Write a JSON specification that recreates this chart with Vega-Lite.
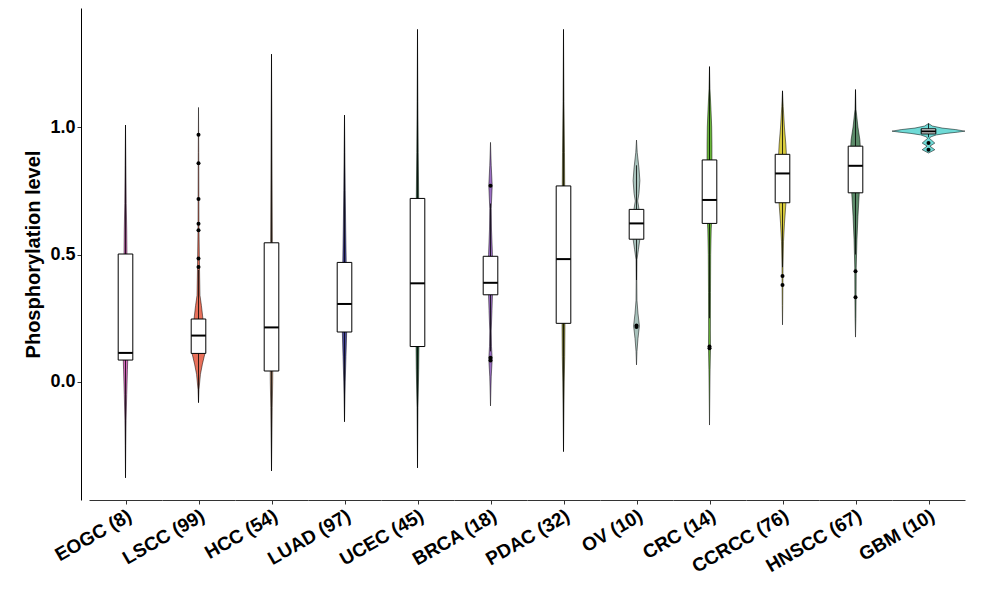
{
  "$schema": "https://vega.github.io/schema/vega-lite/v6.json",
  "background": "white",
  "padding": {"left": 23, "top": 8, "right": 5, "bottom": 5},
  "spacing": 0,
  "bounds": "flush",
  "config": {
    "view": {"stroke": null},
    "font": "Liberation Sans"
  },
  "data": {
    "values": [
      {"g": "EOGC (8)", "y": 1.008, "l": 0, "r": 0},
      {"g": "EOGC (8)", "y": 0.85, "l": -0.011, "r": 0.011},
      {"g": "EOGC (8)", "y": 0.70, "l": -0.02, "r": 0.02},
      {"g": "EOGC (8)", "y": 0.60, "l": -0.033, "r": 0.033},
      {"g": "EOGC (8)", "y": 0.50, "l": -0.04, "r": 0.04},
      {"g": "EOGC (8)", "y": 0.30, "l": -0.053, "r": 0.053},
      {"g": "EOGC (8)", "y": 0.11, "l": -0.067, "r": 0.067},
      {"g": "EOGC (8)", "y": 0.05, "l": -0.053, "r": 0.053},
      {"g": "EOGC (8)", "y": -0.05, "l": -0.033, "r": 0.033},
      {"g": "EOGC (8)", "y": -0.15, "l": -0.016, "r": 0.016},
      {"g": "EOGC (8)", "y": -0.25, "l": -0.008, "r": 0.008},
      {"g": "EOGC (8)", "y": -0.376, "l": 0, "r": 0},

      {"g": "LSCC (99)", "y": 1.077, "l": 0, "r": 0},
      {"g": "LSCC (99)", "y": 0.9, "l": -0.007, "r": 0.007},
      {"g": "LSCC (99)", "y": 0.6, "l": -0.013, "r": 0.013},
      {"g": "LSCC (99)", "y": 0.45, "l": -0.027, "r": 0.027},
      {"g": "LSCC (99)", "y": 0.34, "l": -0.04, "r": 0.04},
      {"g": "LSCC (99)", "y": 0.30, "l": -0.08, "r": 0.08},
      {"g": "LSCC (99)", "y": 0.25, "l": -0.12, "r": 0.12},
      {"g": "LSCC (99)", "y": 0.18, "l": -0.173, "r": 0.173},
      {"g": "LSCC (99)", "y": 0.11, "l": -0.173, "r": 0.173},
      {"g": "LSCC (99)", "y": 0.07, "l": -0.107, "r": 0.107},
      {"g": "LSCC (99)", "y": 0.03, "l": -0.053, "r": 0.053},
      {"g": "LSCC (99)", "y": -0.03, "l": -0.013, "r": 0.013},
      {"g": "LSCC (99)", "y": -0.081, "l": 0, "r": 0},

      {"g": "HCC (54)", "y": 1.286, "l": 0, "r": 0},
      {"g": "HCC (54)", "y": 1.0, "l": -0.011, "r": 0.011},
      {"g": "HCC (54)", "y": 0.8, "l": -0.016, "r": 0.016},
      {"g": "HCC (54)", "y": 0.55, "l": -0.024, "r": 0.024},
      {"g": "HCC (54)", "y": 0.3, "l": -0.033, "r": 0.033},
      {"g": "HCC (54)", "y": 0.1, "l": -0.037, "r": 0.037},
      {"g": "HCC (54)", "y": 0.0, "l": -0.033, "r": 0.033},
      {"g": "HCC (54)", "y": -0.1, "l": -0.02, "r": 0.02},
      {"g": "HCC (54)", "y": -0.2, "l": -0.013, "r": 0.013},
      {"g": "HCC (54)", "y": -0.349, "l": 0, "r": 0},

      {"g": "LUAD (97)", "y": 1.047, "l": 0, "r": 0},
      {"g": "LUAD (97)", "y": 0.9, "l": -0.011, "r": 0.011},
      {"g": "LUAD (97)", "y": 0.75, "l": -0.02, "r": 0.02},
      {"g": "LUAD (97)", "y": 0.6, "l": -0.033, "r": 0.033},
      {"g": "LUAD (97)", "y": 0.47, "l": -0.047, "r": 0.047},
      {"g": "LUAD (97)", "y": 0.3, "l": -0.06, "r": 0.06},
      {"g": "LUAD (97)", "y": 0.2, "l": -0.06, "r": 0.06},
      {"g": "LUAD (97)", "y": 0.1, "l": -0.04, "r": 0.04},
      {"g": "LUAD (97)", "y": 0.0, "l": -0.02, "r": 0.02},
      {"g": "LUAD (97)", "y": -0.156, "l": 0, "r": 0},

      {"g": "UCEC (45)", "y": 1.383, "l": 0, "r": 0},
      {"g": "UCEC (45)", "y": 1.1, "l": -0.011, "r": 0.011},
      {"g": "UCEC (45)", "y": 0.9, "l": -0.02, "r": 0.02},
      {"g": "UCEC (45)", "y": 0.72, "l": -0.033, "r": 0.033},
      {"g": "UCEC (45)", "y": 0.4, "l": -0.04, "r": 0.04},
      {"g": "UCEC (45)", "y": 0.14, "l": -0.04, "r": 0.04},
      {"g": "UCEC (45)", "y": 0.05, "l": -0.033, "r": 0.033},
      {"g": "UCEC (45)", "y": -0.1, "l": -0.013, "r": 0.013},
      {"g": "UCEC (45)", "y": -0.337, "l": 0, "r": 0},

      {"g": "BRCA (18)", "y": 0.94, "l": 0, "r": 0},
      {"g": "BRCA (18)", "y": 0.85, "l": -0.02, "r": 0.02},
      {"g": "BRCA (18)", "y": 0.77, "l": -0.047, "r": 0.047},
      {"g": "BRCA (18)", "y": 0.68, "l": -0.02, "r": 0.02},
      {"g": "BRCA (18)", "y": 0.6, "l": -0.027, "r": 0.027},
      {"g": "BRCA (18)", "y": 0.5, "l": -0.053, "r": 0.053},
      {"g": "BRCA (18)", "y": 0.4, "l": -0.067, "r": 0.067},
      {"g": "BRCA (18)", "y": 0.34, "l": -0.053, "r": 0.053},
      {"g": "BRCA (18)", "y": 0.28, "l": -0.04, "r": 0.04},
      {"g": "BRCA (18)", "y": 0.2, "l": -0.02, "r": 0.02},
      {"g": "BRCA (18)", "y": 0.14, "l": -0.027, "r": 0.027},
      {"g": "BRCA (18)", "y": 0.09, "l": -0.047, "r": 0.047},
      {"g": "BRCA (18)", "y": 0.02, "l": -0.02, "r": 0.02},
      {"g": "BRCA (18)", "y": -0.094, "l": 0, "r": 0},

      {"g": "PDAC (32)", "y": 1.383, "l": 0, "r": 0},
      {"g": "PDAC (32)", "y": 1.1, "l": -0.013, "r": 0.013},
      {"g": "PDAC (32)", "y": 0.9, "l": -0.027, "r": 0.027},
      {"g": "PDAC (32)", "y": 0.77, "l": -0.033, "r": 0.033},
      {"g": "PDAC (32)", "y": 0.5, "l": -0.04, "r": 0.04},
      {"g": "PDAC (32)", "y": 0.23, "l": -0.04, "r": 0.04},
      {"g": "PDAC (32)", "y": 0.1, "l": -0.033, "r": 0.033},
      {"g": "PDAC (32)", "y": 0.0, "l": -0.02, "r": 0.02},
      {"g": "PDAC (32)", "y": -0.273, "l": 0, "r": 0},

      {"g": "OV (10)", "y": 0.949, "l": 0, "r": 0},
      {"g": "OV (10)", "y": 0.90, "l": -0.02, "r": 0.02},
      {"g": "OV (10)", "y": 0.84, "l": -0.067, "r": 0.067},
      {"g": "OV (10)", "y": 0.79, "l": -0.093, "r": 0.093},
      {"g": "OV (10)", "y": 0.74, "l": -0.067, "r": 0.067},
      {"g": "OV (10)", "y": 0.71, "l": -0.033, "r": 0.033},
      {"g": "OV (10)", "y": 0.68, "l": -0.067, "r": 0.067},
      {"g": "OV (10)", "y": 0.62, "l": -0.107, "r": 0.107},
      {"g": "OV (10)", "y": 0.56, "l": -0.093, "r": 0.093},
      {"g": "OV (10)", "y": 0.52, "l": -0.053, "r": 0.053},
      {"g": "OV (10)", "y": 0.48, "l": -0.013, "r": 0.013},
      {"g": "OV (10)", "y": 0.40, "l": -0.008, "r": 0.008},
      {"g": "OV (10)", "y": 0.32, "l": -0.013, "r": 0.013},
      {"g": "OV (10)", "y": 0.27, "l": -0.04, "r": 0.04},
      {"g": "OV (10)", "y": 0.22, "l": -0.08, "r": 0.08},
      {"g": "OV (10)", "y": 0.17, "l": -0.04, "r": 0.04},
      {"g": "OV (10)", "y": 0.12, "l": -0.013, "r": 0.013},
      {"g": "OV (10)", "y": 0.067, "l": 0, "r": 0},

      {"g": "CRC (14)", "y": 1.237, "l": 0, "r": 0},
      {"g": "CRC (14)", "y": 1.15, "l": -0.013, "r": 0.013},
      {"g": "CRC (14)", "y": 1.07, "l": -0.04, "r": 0.04},
      {"g": "CRC (14)", "y": 1.0, "l": -0.06, "r": 0.06},
      {"g": "CRC (14)", "y": 0.93, "l": -0.067, "r": 0.067},
      {"g": "CRC (14)", "y": 0.87, "l": -0.067, "r": 0.067},
      {"g": "CRC (14)", "y": 0.75, "l": -0.08, "r": 0.08},
      {"g": "CRC (14)", "y": 0.65, "l": -0.067, "r": 0.067},
      {"g": "CRC (14)", "y": 0.6, "l": -0.047, "r": 0.047},
      {"g": "CRC (14)", "y": 0.5, "l": -0.033, "r": 0.033},
      {"g": "CRC (14)", "y": 0.35, "l": -0.027, "r": 0.027},
      {"g": "CRC (14)", "y": 0.2, "l": -0.024, "r": 0.024},
      {"g": "CRC (14)", "y": 0.13, "l": -0.027, "r": 0.027},
      {"g": "CRC (14)", "y": 0.05, "l": -0.016, "r": 0.016},
      {"g": "CRC (14)", "y": -0.169, "l": 0, "r": 0},

      {"g": "CCRCC (76)", "y": 1.142, "l": 0, "r": 0},
      {"g": "CCRCC (76)", "y": 1.08, "l": -0.02, "r": 0.02},
      {"g": "CCRCC (76)", "y": 1.0, "l": -0.053, "r": 0.053},
      {"g": "CCRCC (76)", "y": 0.93, "l": -0.093, "r": 0.093},
      {"g": "CCRCC (76)", "y": 0.89, "l": -0.107, "r": 0.107},
      {"g": "CCRCC (76)", "y": 0.82, "l": -0.12, "r": 0.12},
      {"g": "CCRCC (76)", "y": 0.70, "l": -0.093, "r": 0.093},
      {"g": "CCRCC (76)", "y": 0.62, "l": -0.053, "r": 0.053},
      {"g": "CCRCC (76)", "y": 0.55, "l": -0.027, "r": 0.027},
      {"g": "CCRCC (76)", "y": 0.45, "l": -0.013, "r": 0.013},
      {"g": "CCRCC (76)", "y": 0.38, "l": -0.011, "r": 0.011},
      {"g": "CCRCC (76)", "y": 0.3, "l": -0.007, "r": 0.007},
      {"g": "CCRCC (76)", "y": 0.224, "l": 0, "r": 0},

      {"g": "HNSCC (67)", "y": 1.147, "l": 0, "r": 0},
      {"g": "HNSCC (67)", "y": 1.07, "l": -0.013, "r": 0.013},
      {"g": "HNSCC (67)", "y": 1.0, "l": -0.067, "r": 0.067},
      {"g": "HNSCC (67)", "y": 0.95, "l": -0.12, "r": 0.12},
      {"g": "HNSCC (67)", "y": 0.92, "l": -0.133, "r": 0.133},
      {"g": "HNSCC (67)", "y": 0.85, "l": -0.133, "r": 0.133},
      {"g": "HNSCC (67)", "y": 0.75, "l": -0.107, "r": 0.107},
      {"g": "HNSCC (67)", "y": 0.65, "l": -0.067, "r": 0.067},
      {"g": "HNSCC (67)", "y": 0.56, "l": -0.04, "r": 0.04},
      {"g": "HNSCC (67)", "y": 0.45, "l": -0.02, "r": 0.02},
      {"g": "HNSCC (67)", "y": 0.33, "l": -0.016, "r": 0.016},
      {"g": "HNSCC (67)", "y": 0.25, "l": -0.011, "r": 0.011},
      {"g": "HNSCC (67)", "y": 0.176, "l": 0, "r": 0},

      {"g": "GBM (10)", "y": 1.014, "l": 0, "r": 0},
      {"g": "GBM (10)", "y": 1.004, "l": -0.107, "r": 0.107},
      {"g": "GBM (10)", "y": 0.996, "l": -0.373, "r": 0.373},
      {"g": "GBM (10)", "y": 0.990, "l": -0.747, "r": 0.747},
      {"g": "GBM (10)", "y": 0.984, "l": -1.0, "r": 1.0},
      {"g": "GBM (10)", "y": 0.980, "l": -0.8, "r": 0.8},
      {"g": "GBM (10)", "y": 0.975, "l": -0.48, "r": 0.48},
      {"g": "GBM (10)", "y": 0.969, "l": -0.213, "r": 0.213},
      {"g": "GBM (10)", "y": 0.961, "l": -0.053, "r": 0.053},
      {"g": "GBM (10)", "y": 0.955, "l": -0.027, "r": 0.027},
      {"g": "GBM (10)", "y": 0.949, "l": -0.08, "r": 0.08},
      {"g": "GBM (10)", "y": 0.937, "l": -0.173, "r": 0.173},
      {"g": "GBM (10)", "y": 0.925, "l": -0.04, "r": 0.04},
      {"g": "GBM (10)", "y": 0.911, "l": -0.173, "r": 0.173},
      {"g": "GBM (10)", "y": 0.898, "l": 0, "r": 0},

      {"g": "EOGC (8)", "q1": 0.086, "med": 0.114, "q3": 0.502, "lo": -0.376, "hi": 1.008},
      {"g": "LSCC (99)", "q1": 0.112, "med": 0.182, "q3": 0.247, "lo": -0.081, "hi": 0.44},
      {"g": "HCC (54)", "q1": 0.043, "med": 0.214, "q3": 0.546, "lo": -0.349, "hi": 1.286},
      {"g": "LUAD (97)", "q1": 0.196, "med": 0.306, "q3": 0.469, "lo": -0.156, "hi": 1.047},
      {"g": "UCEC (45)", "q1": 0.139, "med": 0.387, "q3": 0.720, "lo": -0.337, "hi": 1.383},
      {"g": "BRCA (18)", "q1": 0.342, "med": 0.389, "q3": 0.493, "lo": 0.12, "hi": 0.70},
      {"g": "PDAC (32)", "q1": 0.230, "med": 0.482, "q3": 0.769, "lo": -0.273, "hi": 1.383},
      {"g": "OV (10)", "q1": 0.560, "med": 0.622, "q3": 0.677, "lo": 0.40, "hi": 0.85},
      {"g": "CRC (14)", "q1": 0.622, "med": 0.714, "q3": 0.871, "lo": 0.25, "hi": 1.237},
      {"g": "CCRCC (76)", "q1": 0.703, "med": 0.818, "q3": 0.893, "lo": 0.45, "hi": 1.142},
      {"g": "HNSCC (67)", "q1": 0.742, "med": 0.848, "q3": 0.925, "lo": 0.50, "hi": 1.147},
      {"g": "GBM (10)", "q1": 0.973, "med": 0.983, "q3": 0.993, "lo": 0.96, "hi": 1.014},

      {"g": "LSCC (99)", "o": 0.970},
      {"g": "LSCC (99)", "o": 0.858},
      {"g": "LSCC (99)", "o": 0.718},
      {"g": "LSCC (99)", "o": 0.621},
      {"g": "LSCC (99)", "o": 0.595},
      {"g": "LSCC (99)", "o": 0.484},
      {"g": "LSCC (99)", "o": 0.451},
      {"g": "BRCA (18)", "o": 0.770},
      {"g": "BRCA (18)", "o": 0.095},
      {"g": "BRCA (18)", "o": 0.084},
      {"g": "OV (10)", "o": 0.222},
      {"g": "OV (10)", "o": 0.216},
      {"g": "CRC (14)", "o": 0.139},
      {"g": "CRC (14)", "o": 0.132},
      {"g": "CCRCC (76)", "o": 0.416},
      {"g": "CCRCC (76)", "o": 0.380},
      {"g": "HNSCC (67)", "o": 0.434},
      {"g": "HNSCC (67)", "o": 0.332},
      {"g": "GBM (10)", "o": 0.937},
      {"g": "GBM (10)", "o": 0.911}
    ]
  },
  "facet": {
    "column": {
      "field": "g",
      "type": "nominal",
      "title": null,
      "sort": ["EOGC (8)", "LSCC (99)", "HCC (54)", "LUAD (97)", "UCEC (45)", "BRCA (18)", "PDAC (32)", "OV (10)", "CRC (14)", "CCRCC (76)", "HNSCC (67)", "GBM (10)"],
      "header": {
        "labelOrient": "bottom",
        "labelAngle": -30,
        "labelAlign": "right",
        "labelBaseline": "top",
        "labelFont": "Liberation Sans",
        "labelFontSize": 19,
        "labelFontWeight": "bold",
        "labelColor": "black",
        "labelPadding": 2
      }
    }
  },
  "spec": {
    "width": 73,
    "height": 492,
    "layer": [
      {
        "transform": [{"filter": "isValid(datum.l)"}],
        "mark": {"type": "area", "orient": "horizontal", "strokeWidth": 0},
        "encoding": {
          "y": {
            "field": "y", "type": "quantitative", "title": "Phosphorylation level",
            "scale": {"domain": [-0.463, 1.467], "nice": false, "zero": false},
            "axis": {
              "values": [0, 0.5, 1], "format": ".1f", "grid": false,
              "offset": 8,
              "domainColor": "black", "domainWidth": 1,
              "tickColor": "#333333", "tickSize": 4,
              "labelFont": "Liberation Sans", "labelFontSize": 18, "labelFontWeight": "bold", "labelColor": "black", "labelPadding": 2,
              "titleFont": "Liberation Sans", "titleFontSize": 20, "titleFontWeight": "bold", "titleColor": "black", "titlePadding": 6
            }
          },
          "x": {
            "field": "l", "type": "quantitative", "title": null,
            "scale": {"domain": [-1, 1], "nice": false, "zero": false},
            "axis": {"labels": false, "values": [0], "ticks": true, "tickSize": 4, "tickColor": "#333333", "domain": true, "domainColor": "#333333", "grid": false, "title": null}
          },
          "x2": {"field": "r"},
          "color": {
            "field": "g", "type": "nominal", "legend": null,
            "scale": {
              "domain": ["EOGC (8)", "LSCC (99)", "HCC (54)", "LUAD (97)", "UCEC (45)", "BRCA (18)", "PDAC (32)", "OV (10)", "CRC (14)", "CCRCC (76)", "HNSCC (67)", "GBM (10)"],
              "range": ["#D86CC0", "#E8705A", "#D2A07C", "#4A4A9C", "#2E6B45", "#9C6FC4", "#8E8E34", "#A8C2BC", "#6AB83A", "#D9CC3E", "#5B8A68", "#6FDAD6"]
            }
          }
        }
      },
      {
        "transform": [{"filter": "isValid(datum.l)"}],
        "mark": {"type": "line", "color": "black", "strokeWidth": 0.5},
        "encoding": {
          "x": {"field": "l", "type": "quantitative", "title": null},
          "y": {"field": "y", "type": "quantitative", "title": "Phosphorylation level"},
          "order": {"field": "y", "type": "quantitative"}
        }
      },
      {
        "transform": [{"filter": "isValid(datum.r)"}],
        "mark": {"type": "line", "color": "black", "strokeWidth": 0.5},
        "encoding": {
          "x": {"field": "r", "type": "quantitative", "title": null},
          "y": {"field": "y", "type": "quantitative", "title": "Phosphorylation level"},
          "order": {"field": "y", "type": "quantitative"}
        }
      },
      {
        "transform": [{"filter": "isValid(datum.q1)"}],
        "mark": {"type": "rule", "color": "black", "strokeWidth": 0.8},
        "encoding": {
          "x": {"datum": 0, "type": "quantitative", "title": null},
          "y": {"field": "lo", "type": "quantitative", "title": "Phosphorylation level"},
          "y2": {"field": "q1"}
        }
      },
      {
        "transform": [{"filter": "isValid(datum.q1)"}],
        "mark": {"type": "rule", "color": "black", "strokeWidth": 0.8},
        "encoding": {
          "x": {"datum": 0, "type": "quantitative", "title": null},
          "y": {"field": "q3", "type": "quantitative", "title": "Phosphorylation level"},
          "y2": {"field": "hi"}
        }
      },
      {
        "transform": [{"filter": "isValid(datum.q1)"}],
        "mark": {"type": "rect", "fill": "white", "stroke": "black", "strokeWidth": 1},
        "encoding": {
          "x": {"datum": -0.2, "type": "quantitative", "title": null},
          "x2": {"datum": 0.2},
          "y": {"field": "q1", "type": "quantitative", "title": "Phosphorylation level"},
          "y2": {"field": "q3"}
        }
      },
      {
        "transform": [{"filter": "isValid(datum.q1)"}],
        "mark": {"type": "rule", "color": "black", "strokeWidth": 2},
        "encoding": {
          "x": {"datum": -0.2, "type": "quantitative", "title": null},
          "x2": {"datum": 0.2},
          "y": {"field": "med", "type": "quantitative", "title": "Phosphorylation level"}
        }
      },
      {
        "transform": [{"filter": "isValid(datum.o)"}],
        "mark": {"type": "circle", "color": "black", "opacity": 1, "size": 16},
        "encoding": {
          "x": {"datum": 0, "type": "quantitative", "title": null},
          "y": {"field": "o", "type": "quantitative", "title": "Phosphorylation level"}
        }
      }
    ]
  }
}
